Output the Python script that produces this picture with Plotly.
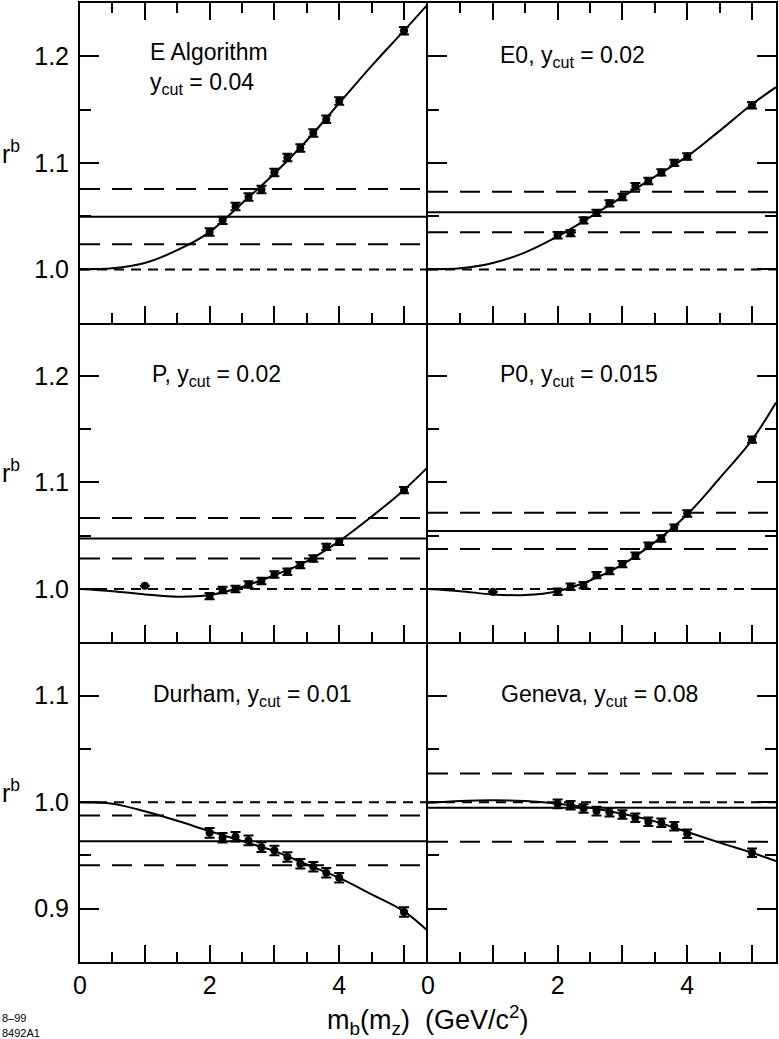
import plotly.graph_objects as go
from plotly.subplots import make_subplots

# ---------------- data ----------------
X_MAX = 5.37

pt_x = [2.0, 2.2, 2.4, 2.6, 2.8, 3.0, 3.2, 3.4, 3.6, 3.8, 4.0, 5.0]
pt_x_ext = [1.0, 2.0, 2.2, 2.4, 2.6, 2.8, 3.0, 3.2, 3.4, 3.6, 3.8, 4.0, 5.0]
curve_x = [0.0, 0.5, 1.0, 1.5, 2.0, 2.5, 3.0, 3.5, 4.0, 4.5, 5.0, 5.37]

# E Algorithm, ycut = 0.04
e_pts = [1.035, 1.046, 1.059, 1.068, 1.075, 1.091, 1.105, 1.114, 1.128, 1.141, 1.158, 1.224]
e_err = [0.0035] * 12
e_curve = [1.0, 1.001, 1.006, 1.018, 1.035, 1.062, 1.090, 1.121, 1.156, 1.191, 1.224, 1.249]
e_lines = [1.0495, 1.0236, 1.0754]

# E0, ycut = 0.02
e0_pts = [1.032, 1.034, 1.046, 1.053, 1.062, 1.068, 1.078, 1.083, 1.091, 1.100, 1.106, 1.154]
e0_err = [0.003] * 12
e0_curve = [1.0, 1.001, 1.006, 1.016, 1.031, 1.049, 1.068, 1.087, 1.106, 1.130, 1.155, 1.171]
e0_lines = [1.0536, 1.0349, 1.0729]

# P, ycut = 0.02
p_pts = [1.003, 0.9934, 0.9991, 1.000, 1.0043, 1.0075, 1.0137, 1.0162, 1.0225, 1.0287, 1.0396, 1.0443, 1.0928]
p_err = [0.0] + [0.003] * 12
p_curve = [1.0, 0.998, 0.995, 0.9928, 0.9944, 1.002, 1.013, 1.026, 1.045, 1.068, 1.093, 1.1146]
p_lines = [1.0474, 1.0287, 1.0668]

# P0, ycut = 0.015
p0_pts = [0.9975, 0.9975, 1.0022, 1.0037, 1.0131, 1.0169, 1.0234, 1.0312, 1.0406, 1.0474, 1.0575, 1.0709, 1.1402]
p0_err = [0.0] + [0.003] * 12
p0_curve = [1.0, 0.998, 0.995, 0.9944, 0.998, 1.008, 1.023, 1.044, 1.070, 1.104, 1.140, 1.175]
p0_lines = [1.0546, 1.0375, 1.0715]

# Durham, ycut = 0.01
d_pts = [0.9712, 0.9666, 0.9675, 0.9641, 0.9578, 0.9547, 0.9485, 0.9422, 0.9394, 0.9337, 0.9291, 0.8969]
d_err = [0.0045] * 12
d_curve = [1.0, 0.9986, 0.9915, 0.9825, 0.9728, 0.9635, 0.954, 0.9415, 0.929, 0.9135, 0.8975, 0.879]
d_lines = [0.9634, 0.9407, 0.9875]

# Geneva, ycut = 0.08
g_pts = [0.9984, 0.9972, 0.9941, 0.9916, 0.9906, 0.9884, 0.9853, 0.9816, 0.9806, 0.9775, 0.9703, 0.9525]
g_err = [0.004] * 12
g_curve = [0.9995, 1.0012, 1.0018, 1.0010, 0.9985, 0.9947, 0.989, 0.982, 0.972, 0.962, 0.9525, 0.9447]
g_lines = [0.9947, 0.9628, 1.0269]

labels = [
    "E Algorithm<br>y<sub>cut</sub> = 0.04",
    "E0, y<sub>cut</sub> = 0.02",
    "P, y<sub>cut</sub> = 0.02",
    "P0, y<sub>cut</sub> = 0.015",
    "Durham, y<sub>cut</sub> = 0.01",
    "Geneva, y<sub>cut</sub> = 0.08",
]
label_pos = [(1.05, 1.189), (1.08, 1.2), (1.08, 1.2), (1.08, 1.2), (1.1, 1.1), (1.09, 1.1)]

y_ranges = [[0.95, 1.25], [0.95, 1.25], [0.85, 1.15]]

panels = [
    (1, 1, pt_x, e_pts, e_err, e_curve, e_lines),
    (1, 2, pt_x, e0_pts, e0_err, e0_curve, e0_lines),
    (2, 1, pt_x_ext, p_pts, p_err, p_curve, p_lines),
    (2, 2, pt_x_ext, p0_pts, p0_err, p0_curve, p0_lines),
    (3, 1, pt_x, d_pts, d_err, d_curve, d_lines),
    (3, 2, pt_x, g_pts, g_err, g_curve, g_lines),
]

FONT = "Liberation Sans, Arial, Helvetica, sans-serif"

fig = make_subplots(rows=3, cols=2, horizontal_spacing=0, vertical_spacing=0)

for i, (r, c, xs, ys, es, cy, hl) in enumerate(panels):
    center, lo, hi = hl
    fig.add_trace(go.Scatter(x=curve_x, y=cy, mode="lines", line=dict(color="black", width=2, shape="spline", smoothing=1.0),
                             showlegend=False, hoverinfo="skip"), row=r, col=c)
    fig.add_trace(go.Scatter(x=xs, y=ys, mode="markers",
                             marker=dict(color="black", size=8, symbol="circle"),
                             error_y=dict(type="data", array=es, visible=True, color="black", thickness=2, width=5),
                             showlegend=False), row=r, col=c)
    # horizontal reference lines
    fig.add_hline(y=1.0, row=r, col=c, line=dict(color="black", width=2, dash="10px,7px"), layer="below")
    fig.add_hline(y=lo, row=r, col=c, line=dict(color="black", width=2, dash="20px,12px"), layer="below")
    fig.add_hline(y=hi, row=r, col=c, line=dict(color="black", width=2, dash="20px,12px"), layer="below")
    fig.add_hline(y=center, row=r, col=c, line=dict(color="black", width=2), layer="below")

    # panel labels
    lx, ly = label_pos[i]
    axn = "" if i == 0 else str(i + 1)
    fig.add_annotation(x=lx, y=ly, xref="x" + axn, yref="y" + axn, text=labels[i],
                       showarrow=False, xanchor="left", yanchor="middle", align="left",
                       font=dict(family=FONT, size=23, color="black"))

    fig.update_xaxes(row=r, col=c, range=[0, X_MAX], tickmode="linear", tick0=0, dtick=1,
                     ticklabelstep=2,
                     ticks="inside", ticklen=17, tickwidth=2, tickcolor="black",
                     minor=dict(ticks="inside", ticklen=10, tickwidth=2, tickcolor="black", dtick=0.5, tick0=0),
                     showline=True, linewidth=2, linecolor="black",
                     mirror="ticks" if r == 1 else False,
                     showgrid=False, zeroline=False,
                     showticklabels=(r == 3),
                     tickfont=dict(family=FONT, size=25, color="black"))
    fig.update_yaxes(row=r, col=c, range=y_ranges[r - 1], dtick=0.1, tick0=0, tickformat=".1f",
                     ticks="inside", ticklen=19, tickwidth=2, tickcolor="black",
                     minor=dict(ticks="inside", ticklen=11, tickwidth=2, tickcolor="black", dtick=0.05, tick0=0),
                     showline=True, linewidth=2, linecolor="black",
                     mirror="ticks" if c == 2 else False,
                     showgrid=False, zeroline=False,
                     showticklabels=(c == 1), ticklabelstandoff=4,
                     tickfont=dict(family=FONT, size=25, color="black"))

# y-axis titles r^b
for r in (1, 2, 3):
    axn = "" if r == 1 else str(2 * r - 1)
    fig.add_annotation(x=-0.1146, y=0.535, xref="paper", yref="y" + axn + " domain",
                       text="r<sup>b</sup>", showarrow=False, xanchor="left", yanchor="middle",
                       font=dict(family=FONT, size=25, color="black"))

# x-axis title
fig.add_annotation(x=0.499, y=-0.06, xref="paper", yref="paper", yanchor="middle", xanchor="center",
                   text="m<sub>b</sub>(m<sub>z</sub>)&nbsp;&nbsp;(GeV/c<sup>2</sup>)", showarrow=False,
                   font=dict(family=FONT, size=27, color="black"))

# figure IDs
fig.add_annotation(x=-0.1146, y=-0.058, xref="paper", yref="paper", xanchor="left", yanchor="middle",
                   text="8–99", showarrow=False, font=dict(family=FONT, size=11, color="black"))
fig.add_annotation(x=-0.1146, y=-0.0745, xref="paper", yref="paper", xanchor="left", yanchor="middle",
                   text="8492A1", showarrow=False, font=dict(family=FONT, size=11, color="black"))

fig.update_layout(width=779, height=1039, margin=dict(l=80, r=1, t=1, b=77),
                  paper_bgcolor="white", plot_bgcolor="white", showlegend=False,
                  font=dict(family=FONT, color="black"))

fig.write_html("out.html", config={"displayModeBar": False},
               post_script="document.body.style.margin='0';document.body.style.overflow='hidden';")
